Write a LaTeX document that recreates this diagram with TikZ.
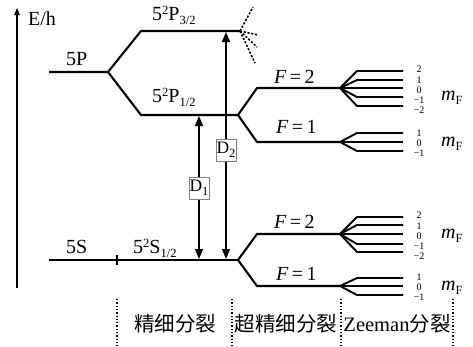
\documentclass[tikz,border=0pt]{standalone}
\usepackage{fontspec}
\setmainfont{Liberation Serif}
\newfontfamily\cjk{Noto Sans CJK SC}
\usetikzlibrary{arrows.meta}
\newcommand\myup[1]{\raisebox{0.6ex}{\fontsize{12.5}{12.5}\selectfont #1}}
\newcommand\mydn[1]{\raisebox{-0.45ex}{\fontsize{12.5}{12.5}\selectfont #1}}
\begin{document}
\begin{tikzpicture}[x=1pt,y=-1pt,
 lvl/.style={line width=2.1pt, line join=round},
 fan/.style={line width=1.9pt, line join=round},
 ray/.style={line width=1.6pt, dash pattern=on 2.2pt off 1.6pt},
 lab/.style={font=\fontsize{20}{20}\selectfont, inner sep=0pt, anchor=base west},
 mffive/.style={font=\fontsize{10}{10.2}\selectfont, inner sep=0pt, align=center},
 mfthree/.style={font=\fontsize{10}{9.8}\selectfont, inner sep=0pt, align=center},
 dbox/.style={draw=gray, fill=white, line width=0.9pt, minimum width=20pt, minimum height=22pt, inner sep=0pt, font=\fontsize{17.5}{17.5}\selectfont},
 dotl/.style={dotted, line width=1.3pt},
 tipline/.style={line width=1.6pt, {Triangle[length=10pt,width=8pt]}-{Triangle[length=10pt,width=8pt]}},
 cjkl/.style={font=\cjk\fontsize{20.5}{20.5}\selectfont, inner sep=0pt}
]
\useasboundingbox (0,0) rectangle (473,346);
% axis
\coordinate (a0) at (17,288);
\coordinate (a1) at (17,8);
\draw[line width=1.4pt,-{Triangle[length=7pt,width=5.5pt]}] (a0) -- (a1);
\node[lab] (eh) at (28,25) {E/h};
% P levels
\coordinate (p0) at (49,72);
\coordinate (pk) at (108,72);
\coordinate (p3a) at (141,31);
\coordinate (p3b) at (240,31);
\coordinate (p1a) at (141,115);
\coordinate (p1b) at (238,115);
\draw[lvl] (p0) -- (pk) -- (p3a) -- (p3b);
\draw[lvl] (pk) -- (p1a) -- (p1b);
\node[lab] (l5p) at (66,65) {5P};
\node[lab] (l3) at (152,20) {5\myup{2}P\mydn{3/2}};
\node[lab] (l1) at (152,102) {5\myup{2}P\mydn{1/2}};
% rays
\coordinate (r1) at (253,7);
\coordinate (r2) at (258,35);
\coordinate (r3) at (257,47);
\coordinate (r4) at (255,63);
\foreach \r in {r1,r2,r3,r4} \draw[ray] (p3b) -- (\r);
% upper hyperfine
\coordinate (hu2a) at (257,88);
\coordinate (hu2b) at (340,88);
\coordinate (hu1a) at (257,142);
\coordinate (hu1b) at (340,142);
\draw[lvl] (p1b) -- (hu2a) -- (hu2b);
\draw[lvl] (p1b) -- (hu1a) -- (hu1b);
\node[lab] (fu2) at (274,83) {\textit{F}\,=\,2};
\node[lab] (fu1) at (276,133) {\textit{F}\,=\,1};
\foreach \y in {71,80,88,97,106} \draw[fan] (hu2b) -- (357,\y) -- (403,\y);
\foreach \y in {133,142,151} \draw[fan] (hu1b) -- (357,\y) -- (403,\y);
% mF labels
\node[mffive] (ua) at (419,90) {2\\1\\0\\−1\\−2};
\node[mfthree] (ub) at (419,143) {1\\0\\−1};
\node[mffive] (la) at (419,236) {2\\1\\0\\−1\\−2};
\node[mfthree] (lb) at (419,287) {1\\0\\−1};
\node[lab] (m1) at (441,100) {\textit{m}\mydn{F}};
\node[lab] (m2) at (441,146) {\textit{m}\mydn{F}};
\node[lab] (m3) at (441,238) {\textit{m}\mydn{F}};
\node[lab] (m4) at (441,290) {\textit{m}\mydn{F}};
% S levels
\coordinate (s0) at (49,260);
\coordinate (s1) at (238,260);
\coordinate (tk0) at (117,255);
\coordinate (tk1) at (117,265);
\draw[lvl] (s0) -- (s1);
\draw[line width=1.6pt] (tk0) -- (tk1);
\node[lab] (l5s) at (66,253) {5S};
\node[lab] (ls) at (133,253) {5\myup{2}S\mydn{1/2}};
\coordinate (hl2a) at (257,234);
\coordinate (hl2b) at (340,234);
\coordinate (hl1a) at (257,286);
\coordinate (hl1b) at (340,286);
\draw[lvl] (s1) -- (hl2a) -- (hl2b);
\draw[lvl] (s1) -- (hl1a) -- (hl1b);
\node[lab] (fl2) at (274,228) {\textit{F}\,=\,2};
\node[lab] (fl1) at (276,280) {\textit{F}\,=\,1};
\foreach \y in {217,225,234,244,252} \draw[fan] (hl2b) -- (357,\y) -- (403,\y);
\foreach \y in {278,286,295} \draw[fan] (hl1b) -- (357,\y) -- (403,\y);
% transitions
\coordinate (d1s) at (199,259);
\coordinate (d1p) at (199,116);
\coordinate (d2s) at (226,259);
\coordinate (d2p) at (226,32);
\draw[tipline] (d1s) -- (d1p);
\draw[tipline] (d2s) -- (d2p);
\node[dbox] (D1) at (199,188) {D\mydn{1}};
\node[dbox] (D2) at (226,150) {D\mydn{2}};
% bottom separators
\foreach \x [count=\i] in {117,232,341,453} {
  \coordinate (v\i a) at (\x,299);
  \coordinate (v\i b) at (\x,346);
  \draw[dotl] (v\i a) -- (v\i b);
}
\node[cjkl] (t1) at (175,324) {精细分裂};
\node[cjkl] (t2) at (286,324) {超精细分裂};
\node[font=\fontsize{20.5}{20.5}\selectfont, inner sep=0pt] (t3) at (397,324) {Zeeman{\cjk 分裂}};
\end{tikzpicture}
\end{document}
